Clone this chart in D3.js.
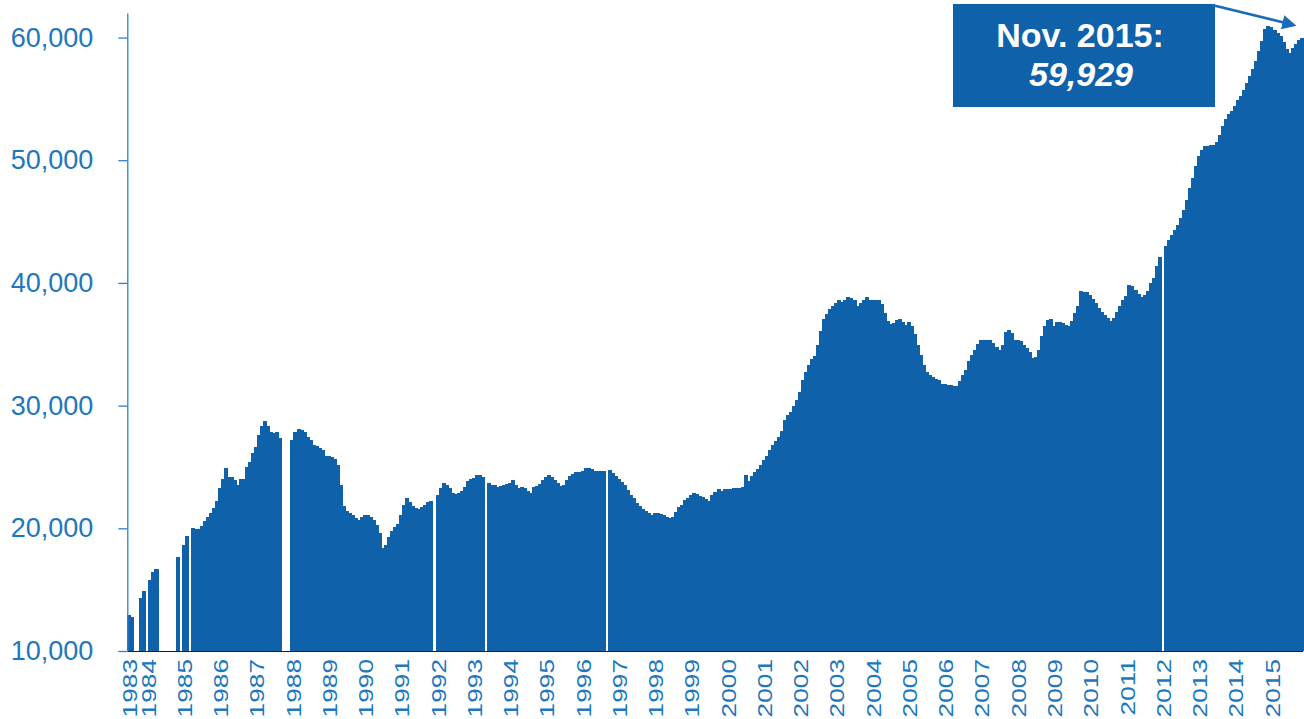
<!DOCTYPE html>
<html>
<head>
<meta charset="utf-8">
<script src="https://cdn.jsdelivr.net/npm/d3@7"></script>
<style>
  body { margin: 0; background: #fff; }
  svg { display: block; font-family: "Liberation Sans", Arial, sans-serif; }
</style>
</head>
<body>
<div id="chart"></div>
<script>
// Monthly values, first bar is Jul 1983, last is Nov 2015 (null = no data)
const v1983to1989 = [
  12900, 12800, null, null, 14350, 14900,
  null, 15800, 16400, 16700, null, null, null, null, null, null, 17700, null,
  18650, 19400, null, 20050, 19980, 19980, 20150, 20600, 20950, 21230, 21640, 22230,
  23320, 24000, 24900, 24170, 24170, 23950, 23540, 24030, 24030, 25030, 25440, 26120,
  26660, 27620, 28300, 28780, 28300, 27890, 27760, 27840, 27350, null, null, null,
  27210, 27890, 28080, 28030, 27810, 27480, 27160, 26810, 26670, 26530, 26400, 25910,
  25860, 25800, 25640, 25180, 23550, 21840, 21370, 21240, 21100, 20830, 20690, 20960
];
const v1990s = [
  21100, 21100, 20900, 20690, 20280, 19600, 18380, 18650, 19270, 19740, 20140, 20360,
  21090, 21900, 22450, 22180, 21830, 21640, 21590, 21720, 21900, 22180, 22260, null,
  22730, 23270, 23730, 23540, 23270, 22910, 22780, 22910, 23080, 23350, 23870, 24030,
  24060, 24360, 24330, 24220, null, 23680, 23540, 23490, 23350, 23460, 23540, 23600,
  23730, 23950, 23540, 23270, 23350, 23270, 23080, 22910, 23350, 23460, 23620, 23900,
  24170, 24360, 24170, 23900, 23680, 23460, 23540, 23950, 24280, 24440, 24550, 24550,
  24710, 24900, 24930, 24850, 24710, 24710, 24680, 24680, null, 24760, 24490, 24270,
  24000, 23810, 23540, 23130, 22720, 22450, 22100, 21830, 21610, 21450, 21230, 21070,
  21280, 21280, 21170, 21070, 20900, 20820, 20960, 21360, 21720, 21910, 22320, 22450,
  22720, 22860, 22810, 22640, 22530, 22370, 22260, 22720, 22990, 23190, 23080, 23190
];
const v2000s = [
  23240, 23190, 23270, 23270, 23300, 23400, 24360, 23890, 24270, 24550, 24820, 25170,
  25580, 25910, 26350, 26810, 27080, 27430, 27900, 28790, 29250, 29520, 29930, 30420,
  31150, 32050, 32780, 33330, 33790, 34010, 34960, 36050, 37060, 37490, 37870, 38140,
  38360, 38570, 38410, 38630, 38850, 38740, 38630, 38090, 38360, 38630, 38850, 38570,
  38630, 38630, 38570, 38300, 37550, 36860, 36670, 36730, 36950, 37060, 36830, 36560,
  36780, 36450, 35860, 34960, 34150, 33330, 32780, 32460, 32330, 32160, 32050, 31780,
  31750, 31700, 31650, 31590, 31620, 31970, 32510, 32920, 33600, 34090, 34550, 35040,
  35310, 35370, 35370, 35310, 35100, 34770, 34550, 34960, 35970, 36130, 35920, 35370,
  35310, 35230, 34960, 34690, 34330, 33870, 33950, 34550, 35640, 36450, 37000, 37060,
  36510, 36830, 36780, 36730, 36560, 36510, 36860, 37550, 38140, 39310, 39260, 39280
];
const v2010s = [
  39040, 38690, 38360, 37950, 37630, 37410, 37140, 36920, 37140, 37600, 38140, 38570,
  38960, 39850, 39720, 39450, 39120, 38850, 39040, 39310, 40000, 40400, 41350, 42110,
  null, 42980, 43470, 43880, 44280, 44750, 45290, 45970, 46790, 47740, 48560, 49510,
  50320, 50870, 51140, 51190, 51220, 51270, 51460, 52090, 52830, 53370, 53780, 54050,
  54460, 54890, 55220, 55760, 56310, 56900, 57470, 58070, 58880, 59700, 60660, 60960,
  60880, 60600, 60380, 60110, 59620, 59080, 58750, 59150, 59500, 59800, 59929
];

const firstYear = 1983;
const firstMonth = 7;
const yTicks = [10000, 20000, 30000, 40000, 50000, 60000];
const calloutLines = ["Nov. 2015:", "59,929"];

const values = v1983to1989.concat(v1990s, v2000s, v2010s);

// one category per month
const periods = values.map((v, i) => {
  const m = firstMonth - 1 + i;
  return {year: firstYear + Math.floor(m / 12), month: (m % 12) + 1, value: v, i: i};
});
const yearStarts = periods.filter((p, i) => i === 0 || p.month === 1).map(p => p.i);

const width = 1304, height = 719;
const margin = {top: 13, right: 1.3, bottom: 68, left: 127.3};
const blue = "#0f62aa";
const textBlue = "#2077bd";

const svg = d3.select("#chart")
  .append("svg")
    .attr("width", width)
    .attr("height", height);

const x = d3.scaleBand()
  .domain(periods.map(p => p.i))
  .range([margin.left, width - margin.right])
  .padding(0);

const y = d3.scaleLinear()
  .domain([10000, 62000])
  .range([height - margin.bottom, margin.top]);

// bars (slightly overlapped so no seams show between months)
svg.append("g")
  .attr("shape-rendering", "crispEdges")
  .selectAll("rect")
  .data(periods.filter(p => p.value !== null))
  .join("rect")
    .attr("x", d => x(d.i))
    .attr("y", d => y(d.value))
    .attr("width", x.bandwidth() + 1)
    .attr("height", d => y(10000) - y(d.value))
    .attr("fill", blue);

// y axis
const yAxis = svg.append("g")
  .attr("transform", `translate(${margin.left},0)`)
  .call(d3.axisLeft(y)
    .tickValues(yTicks)
    .tickFormat(d3.format(","))
    .tickSize(9)
    .tickSizeOuter(0)
    .tickPadding(25));
yAxis.select(".domain").attr("stroke", "#2d80cf").attr("stroke-width", 1.3);
yAxis.selectAll(".tick line").attr("stroke", "#2d80cf").attr("stroke-width", 1.3);
yAxis.selectAll("text")
  .attr("fill", textBlue)
  .style("font-size", "27px")
  .attr("font-family", "Liberation Sans, Arial, sans-serif");

// x axis: year labels are narrow but long, so stretch them along their length
const xAxis = svg.append("g")
  .attr("transform", `translate(0,${y(10000)})`)
  .call(d3.axisBottom(x)
    .tickValues(yearStarts)
    .tickFormat(i => periods[i].year)
    .tickSize(0)
    .tickSizeOuter(0));
xAxis.select(".domain").attr("stroke", "#1b1b1b").attr("stroke-width", 1.2);
xAxis.selectAll("text")
  .attr("transform", "rotate(-90) scale(1.25,1)")
  .attr("x", -6.4)
  .attr("y", 1)
  .attr("dy", "0.36em")
  .style("text-anchor", "end")
  .style("font-size", "21px")
  .attr("font-family", "Liberation Sans, Arial, sans-serif")
  .attr("fill", textBlue);

// callout box
const box = {x: 953, y: 4, w: 262, h: 103};
svg.append("rect")
  .attr("x", box.x).attr("y", box.y)
  .attr("width", box.w).attr("height", box.h)
  .attr("fill", blue);

svg.append("text")
  .attr("x", box.x + box.w / 2 - 4)
  .attr("y", 47)
  .attr("text-anchor", "middle")
  .attr("fill", "#fff")
  .style("font-size", "34px")
  .style("font-weight", "bold")
  .text(calloutLines[0]);

svg.append("text")
  .attr("x", box.x + box.w / 2 - 3)
  .attr("y", 86)
  .attr("text-anchor", "middle")
  .attr("fill", "#fff")
  .style("font-size", "34px")
  .style("font-weight", "bold")
  .style("font-style", "italic")
  .text(calloutLines[1]);

// arrow from the box to the last bar
svg.append("defs").append("marker")
  .attr("id", "head")
  .attr("viewBox", "0 0 10 10")
  .attr("refX", 8).attr("refY", 5)
  .attr("markerWidth", 5.5).attr("markerHeight", 5.5)
  .attr("orient", "auto")
  .append("path")
    .attr("d", "M0,0L10,5L0,10Z")
    .attr("fill", "#1a6cb8");

const last = periods[periods.length - 1];
svg.append("line")
  .attr("x1", box.x + box.w - 3).attr("y1", box.y + 1)
  .attr("x2", x(last.i) - 6).attr("y2", 25)
  .attr("stroke", "#1a6cb8")
  .attr("stroke-width", 2.6)
  .attr("marker-end", "url(#head)");
</script>
</body>
</html>
